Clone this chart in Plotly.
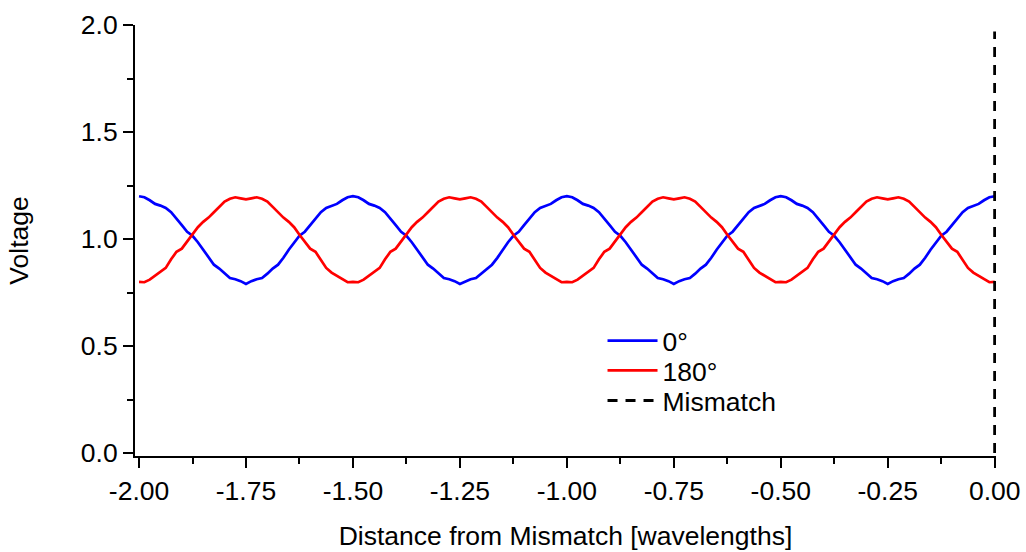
import numpy as np
import plotly.graph_objects as go

# Distance grid [wavelengths], sampled every 0.0125
distance = np.linspace(-2.0, 0.0, 161)

# Voltage, 0 degree series (blue)
voltage_0 = [
    1.200, 1.195, 1.181, 1.164, 1.156, 1.145, 1.125, 1.097, 1.065, 1.034,
    1.015, 0.985, 0.950, 0.912, 0.880, 0.862, 0.838, 0.818, 0.812, 0.803,
    0.790, 0.803, 0.812, 0.818, 0.838, 0.862, 0.880, 0.912, 0.950, 0.985,
    1.015, 1.034, 1.065, 1.097, 1.125, 1.145, 1.156, 1.164, 1.181, 1.195,
    1.200, 1.195, 1.181, 1.164, 1.156, 1.145, 1.125, 1.097, 1.065, 1.034,
    1.015, 0.985, 0.950, 0.912, 0.880, 0.862, 0.838, 0.818, 0.812, 0.803,
    0.790, 0.803, 0.812, 0.818, 0.838, 0.862, 0.880, 0.912, 0.950, 0.985,
    1.015, 1.034, 1.065, 1.097, 1.125, 1.145, 1.156, 1.164, 1.181, 1.195,
    1.200, 1.195, 1.181, 1.164, 1.156, 1.145, 1.125, 1.097, 1.065, 1.034,
    1.015, 0.985, 0.950, 0.912, 0.880, 0.862, 0.838, 0.818, 0.812, 0.803,
    0.790, 0.803, 0.812, 0.818, 0.838, 0.862, 0.880, 0.912, 0.950, 0.985,
    1.015, 1.034, 1.065, 1.097, 1.125, 1.145, 1.156, 1.164, 1.181, 1.195,
    1.200, 1.195, 1.181, 1.164, 1.156, 1.145, 1.125, 1.097, 1.065, 1.034,
    1.015, 0.985, 0.950, 0.912, 0.880, 0.862, 0.838, 0.818, 0.812, 0.803,
    0.790, 0.803, 0.812, 0.818, 0.838, 0.862, 0.880, 0.912, 0.950, 0.985,
    1.015, 1.034, 1.065, 1.097, 1.125, 1.145, 1.156, 1.164, 1.181, 1.195,
    1.200,
]

# Voltage, 180 degree series (red)
voltage_180 = [
    0.800, 0.798, 0.810, 0.828, 0.843, 0.865, 0.905, 0.940, 0.955, 0.990,
    1.020, 1.055, 1.080, 1.100, 1.125, 1.150, 1.175, 1.188, 1.195, 1.190,
    1.185, 1.190, 1.195, 1.188, 1.175, 1.150, 1.125, 1.100, 1.080, 1.055,
    1.020, 0.990, 0.955, 0.940, 0.905, 0.865, 0.843, 0.828, 0.810, 0.798,
    0.800, 0.798, 0.810, 0.828, 0.843, 0.865, 0.905, 0.940, 0.955, 0.990,
    1.020, 1.055, 1.080, 1.100, 1.125, 1.150, 1.175, 1.188, 1.195, 1.190,
    1.185, 1.190, 1.195, 1.188, 1.175, 1.150, 1.125, 1.100, 1.080, 1.055,
    1.020, 0.990, 0.955, 0.940, 0.905, 0.865, 0.843, 0.828, 0.810, 0.798,
    0.800, 0.798, 0.810, 0.828, 0.843, 0.865, 0.905, 0.940, 0.955, 0.990,
    1.020, 1.055, 1.080, 1.100, 1.125, 1.150, 1.175, 1.188, 1.195, 1.190,
    1.185, 1.190, 1.195, 1.188, 1.175, 1.150, 1.125, 1.100, 1.080, 1.055,
    1.020, 0.990, 0.955, 0.940, 0.905, 0.865, 0.843, 0.828, 0.810, 0.798,
    0.800, 0.798, 0.810, 0.828, 0.843, 0.865, 0.905, 0.940, 0.955, 0.990,
    1.020, 1.055, 1.080, 1.100, 1.125, 1.150, 1.175, 1.188, 1.195, 1.190,
    1.185, 1.190, 1.195, 1.188, 1.175, 1.150, 1.125, 1.100, 1.080, 1.055,
    1.020, 0.990, 0.955, 0.940, 0.905, 0.865, 0.843, 0.828, 0.810, 0.798,
    0.800,
]

# Mismatch marker
mismatch_x = [0.0, 0.0]
mismatch_y = [0.0, 1.97]

x_ticks = [-2.0, -1.75, -1.5, -1.25, -1.0, -0.75, -0.5, -0.25, 0.0]
x_tick_labels = ["-2.00", "-1.75", "-1.50", "-1.25", "-1.00", "-0.75", "-0.50", "-0.25", "0.00"]
y_ticks = [0.0, 0.5, 1.0, 1.5, 2.0]
y_tick_labels = ["0.0", "0.5", "1.0", "1.5", "2.0"]

FONT = "Liberation Sans, Arial, sans-serif"
FS_TICK = 26.5
FS_TITLE = 26.5
FS_LEG = 26.5

fig = go.Figure()
fig.add_trace(go.Scatter(x=distance, y=voltage_0, mode="lines", name="0°",
                         line=dict(color="#0000ff", width=2.7), legend="legend"))
fig.add_trace(go.Scatter(x=distance, y=voltage_180, mode="lines", name="180°",
                         line=dict(color="#ff0000", width=2.7), legend="legend2"))
fig.add_trace(go.Scatter(x=mismatch_x, y=mismatch_y, mode="lines", name="Mismatch",
                         line=dict(color="black", width=3, dash="10px,8px"), legend="legend3"))

def leg(yc):
    return dict(x=0.543, y=yc, xanchor="left", yanchor="middle",
                bgcolor="rgba(0,0,0,0)", font=dict(size=FS_LEG, family=FONT),
                itemwidth=50, borderwidth=0)

fig.update_layout(
    width=1026, height=552,
    margin=dict(l=135, r=30, t=25, b=96, autoexpand=False),
    plot_bgcolor="white", paper_bgcolor="white",
    font=dict(family=FONT, size=FS_TICK, color="black"),
    showlegend=True,
    legend=leg(0.267),
    legend2=leg(0.198),
    legend3=leg(0.128),
    xaxis=dict(
        range=[-2.0094, 0.003], tickmode="array", tickvals=x_ticks, ticktext=x_tick_labels,
        showgrid=False, zeroline=False, showline=True, linecolor="black", linewidth=2,
        ticks="outside", ticklen=10, tickwidth=2, tickcolor="black",
        minor=dict(dtick=0.125, tick0=-2.0, ticks="outside", ticklen=6, tickwidth=2, tickcolor="black", showgrid=False),
        title=dict(text="Distance from Mismatch [wavelengths]", font=dict(size=FS_TITLE), standoff=22),
        tickfont=dict(size=FS_TICK), automargin=False,
    ),
    yaxis=dict(
        range=[-0.014, 2.0], tickmode="array", tickvals=y_ticks, ticktext=y_tick_labels,
        showgrid=False, zeroline=False, showline=True, linecolor="black", linewidth=2,
        ticks="outside", ticklen=10, tickwidth=2, tickcolor="black",
        minor=dict(dtick=0.25, tick0=0.0, ticks="outside", ticklen=6, tickwidth=2, tickcolor="black", showgrid=False),
        title=dict(text="Voltage", font=dict(size=FS_TITLE), standoff=45),
        tickfont=dict(size=FS_TICK), automargin=False,
    ),
)

fig.write_html("out.html")
